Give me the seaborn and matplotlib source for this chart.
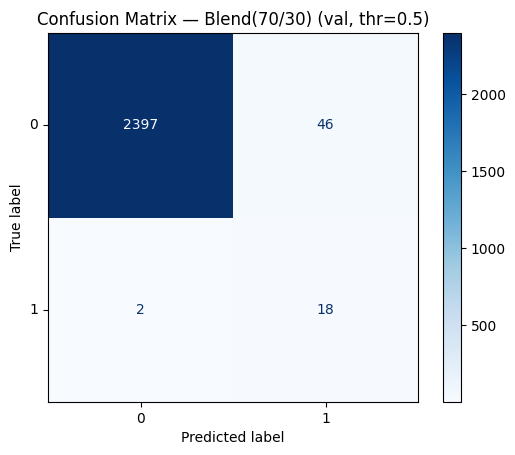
import matplotlib
matplotlib.use("Agg")
import matplotlib.pyplot as plt
import seaborn as sns
import numpy as np
import pandas as pd

labels = ["0", "1"]
row0 = [2397, 46]
row1 = [2, 18]
cbar_ticks = [500, 1000, 1500, 2000]
title = "Confusion Matrix — Blend(70/30) (val, thr=0.5)"

cm = np.array([row0, row1])
df = pd.DataFrame(cm, index=labels, columns=labels)

fig = plt.figure(figsize=(5.15, 4.55), dpi=100)
W, H = 515, 455
ax = fig.add_axes([48 / W, (H - 402) / H, 370 / W, 369 / H])
cax = fig.add_axes([443 / W, (H - 402) / H, 18 / W, 369 / H])

cmap = plt.get_cmap("Blues")
sns.heatmap(df, ax=ax, cbar_ax=cax, cmap=cmap, annot=True, fmt="d",
            vmin=cm.min(), vmax=cm.max(), annot_kws={"fontsize": 10},
            cbar_kws={"ticks": cbar_ticks})

thresh = (cm.max() + cm.min()) / 2.0
vals = cm.flatten()
for t, v in zip(ax.texts, vals):
    t.set_color(cmap(0.0) if v > thresh else cmap(1.0))

for s in ax.spines.values():
    s.set_visible(True)
    s.set_linewidth(0.8)
    s.set_color("black")
cb = ax.collections[0].colorbar
cb.outline.set_visible(True)
cb.outline.set_linewidth(0.8)
cb.outline.set_edgecolor("black")

ax.set_yticklabels(labels, rotation=0, fontsize=10)
ax.set_xticklabels(labels, rotation=0, fontsize=10)
ax.tick_params(axis="both", length=3.5, width=0.8)
cax.tick_params(length=3.5, width=0.8, labelsize=10)
ax.set_xlabel("Predicted label", fontsize=10)
ax.set_ylabel("True label", fontsize=10)
ax.set_title(title, fontsize=12)

fig.savefig("out.png", dpi=100)
